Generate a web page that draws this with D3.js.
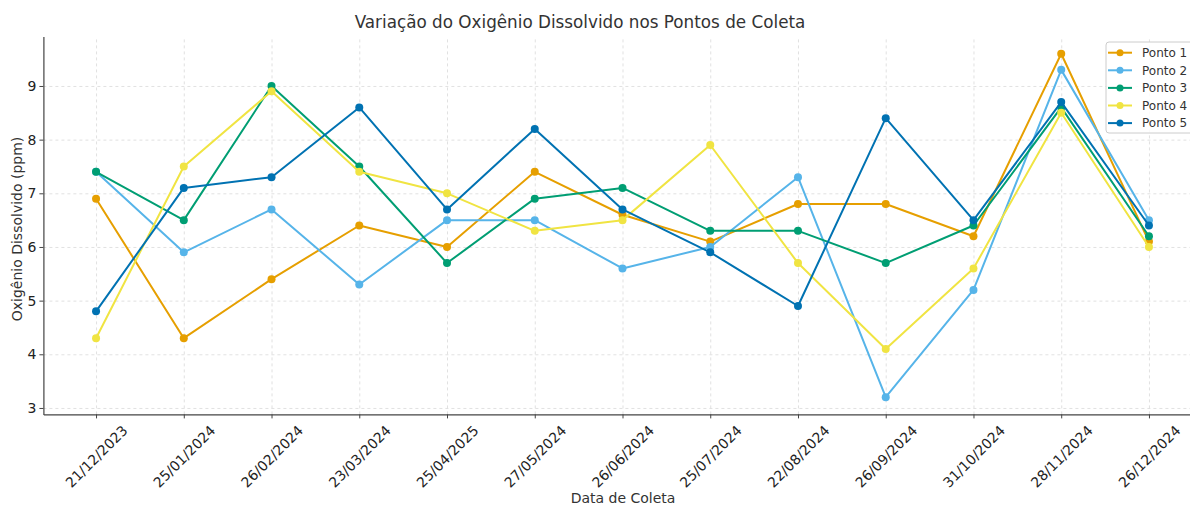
<!DOCTYPE html>
<html>
<head>
<meta charset="utf-8">
<script src="https://cdnjs.cloudflare.com/ajax/libs/d3/7.8.5/d3.min.js"></script>
<style>
	body { margin: 0; background: #fff; }
	svg { display: block; font-family: "DejaVu Sans", sans-serif; }
	.grid line { stroke: #d9d9d9; stroke-dasharray: 3,3; stroke-width: 0.8; }
	.grid path { display: none; }
</style>
</head>
<body>
<svg width="1190" height="508"></svg>
<script>
// datas de coleta
const dates = ["21/12/2023", "25/01/2024", "26/02/2024", "23/03/2024", "25/04/2025", "27/05/2024",
	"26/06/2024", "25/07/2024", "22/08/2024", "26/09/2024", "31/10/2024", "28/11/2024", "26/12/2024"];

// oxigenio dissolvido (ppm) por ponto
const ponto1 = [6.9, 4.3, 5.4, 6.4, 6.0, 7.4, 6.6, 6.1, 6.8, 6.8, 6.2, 9.6, 6.1];
const ponto2 = [7.4, 5.9, 6.7, 5.3, 6.5, 6.5, 5.6, 6.0, 7.3, 3.2, 5.2, 9.3, 6.5];
const ponto3 = [7.4, 6.5, 9.0, 7.5, 5.7, 6.9, 7.1, 6.3, 6.3, 5.7, 6.4, 8.6, 6.2];
const ponto4 = [4.3, 7.5, 8.9, 7.4, 7.0, 6.3, 6.5, 7.9, 5.7, 4.1, 5.6, 8.5, 6.0];
const ponto5 = [4.8, 7.1, 7.3, 8.6, 6.7, 8.2, 6.7, 5.9, 4.9, 8.4, 6.5, 8.7, 6.4];

const seriesNames = ["Ponto 1", "Ponto 2", "Ponto 3", "Ponto 4", "Ponto 5"];
const seriesValues = [ponto1, ponto2, ponto3, ponto4, ponto5];
const colors = ["#E69F00", "#56B4E9", "#009E73", "#F0E442", "#0072B2"];
const yTicks = [3, 4, 5, 6, 7, 8, 9];

const svg = d3.select("svg");

// area do grafico (lado direito sai da imagem, como no original)
const plotLeft = 43.4, plotRight = 1201.6, plotTop = 36.6, plotBottom = 414.4;

const x = d3.scaleLinear().domain([-0.6, dates.length - 1 + 0.6]).range([plotLeft, plotRight]);
const y = d3.scaleLinear().domain([2.88, 9.92]).range([plotBottom, plotTop]);

//grid
svg.append("g")
	.attr("class", "grid")
	.attr("transform", `translate(0,${plotBottom})`)
	.call(d3.axisBottom(x).tickValues(d3.range(dates.length)).tickSize(-(plotBottom - plotTop)).tickFormat(""));
svg.append("g")
	.attr("class", "grid")
	.attr("transform", `translate(${plotLeft},0)`)
	.call(d3.axisLeft(y).tickValues(yTicks).tickSize(-(plotRight - plotLeft)).tickFormat(""));

//series
const line = d3.line()
	.x((d, i) => x(i))
	.y(d => y(d));

seriesValues.forEach((vals, k) => {
	const g = svg.append("g");
	g.append("path")
		.datum(vals)
		.attr("fill", "none")
		.attr("stroke", colors[k])
		.attr("stroke-width", 2)
		.attr("stroke-linejoin", "round")
		.attr("d", line);
	g.selectAll("circle")
		.data(vals)
		.enter()
		.append("circle")
		.attr("cx", (d, i) => x(i))
		.attr("cy", d => y(d))
		.attr("r", 4)
		.attr("fill", colors[k]);
});

//axes
const xAxis = svg.append("g")
	.attr("transform", `translate(0,${plotBottom})`)
	.call(d3.axisBottom(x).tickValues(d3.range(dates.length)).tickSize(4).tickSizeOuter(0).tickFormat(i => dates[i]))
	.attr("font-family", null);
xAxis.select(".domain").attr("stroke", "#444").attr("stroke-width", 1.2);
xAxis.selectAll(".tick line").attr("stroke", "#444");
// rotated labels centred under the tick (like matplotlib rotation=45)
xAxis.selectAll(".tick text")
	.attr("fill", "#222")
	.style("font-size", "14px")
	.attr("text-anchor", "middle")
	.attr("y", 0)
	.attr("dy", "0.35em")
	.attr("transform", "translate(0,42) rotate(-45)");

const yAxis = svg.append("g")
	.attr("transform", `translate(${plotLeft},0)`)
	.call(d3.axisLeft(y).tickValues(yTicks).tickSize(4).tickSizeOuter(0).tickFormat(d3.format("d")))
	.attr("font-family", null);
yAxis.select(".domain").attr("stroke", "#444").attr("stroke-width", 1.2);
yAxis.selectAll(".tick line").attr("stroke", "#444");
yAxis.selectAll(".tick text").attr("fill", "#222").style("font-size", "14px");

//labels
svg.append("text")
	.attr("x", 580)
	.attr("y", 28)
	.attr("text-anchor", "middle")
	.attr("fill", "#333")
	.style("font-size", "16.8px")
	.text("Variação do Oxigênio Dissolvido nos Pontos de Coleta");

svg.append("text")
	.attr("x", 623)
	.attr("y", 503)
	.attr("text-anchor", "middle")
	.attr("fill", "#333")
	.style("font-size", "14px")
	.text("Data de Coleta");

svg.append("text")
	.attr("transform", `translate(22,229) rotate(-90)`)
	.attr("text-anchor", "middle")
	.attr("fill", "#333")
	.style("font-size", "14px")
	.text("Oxigênio Dissolvido (ppm)");

//legend
const lg = svg.append("g").attr("transform", "translate(1106,42)");
lg.append("rect")
	.attr("width", 90).attr("height", 91).attr("rx", 3)
	.attr("fill", "#fff").attr("fill-opacity", 0.85)
	.attr("stroke", "#ccc");
seriesNames.forEach((name, k) => {
	const row = lg.append("g").attr("transform", `translate(0,${10.7 + k * 17.6})`);
	row.append("line").attr("x1", 2).attr("x2", 26).attr("stroke", colors[k]).attr("stroke-width", 2);
	row.append("circle").attr("cx", 14).attr("r", 3.5).attr("fill", colors[k]);
	row.append("text").attr("x", 36).attr("dy", "0.35em").attr("fill", "#333")
		.style("font-size", "12px").text(name);
});
</script>
</body>
</html>
